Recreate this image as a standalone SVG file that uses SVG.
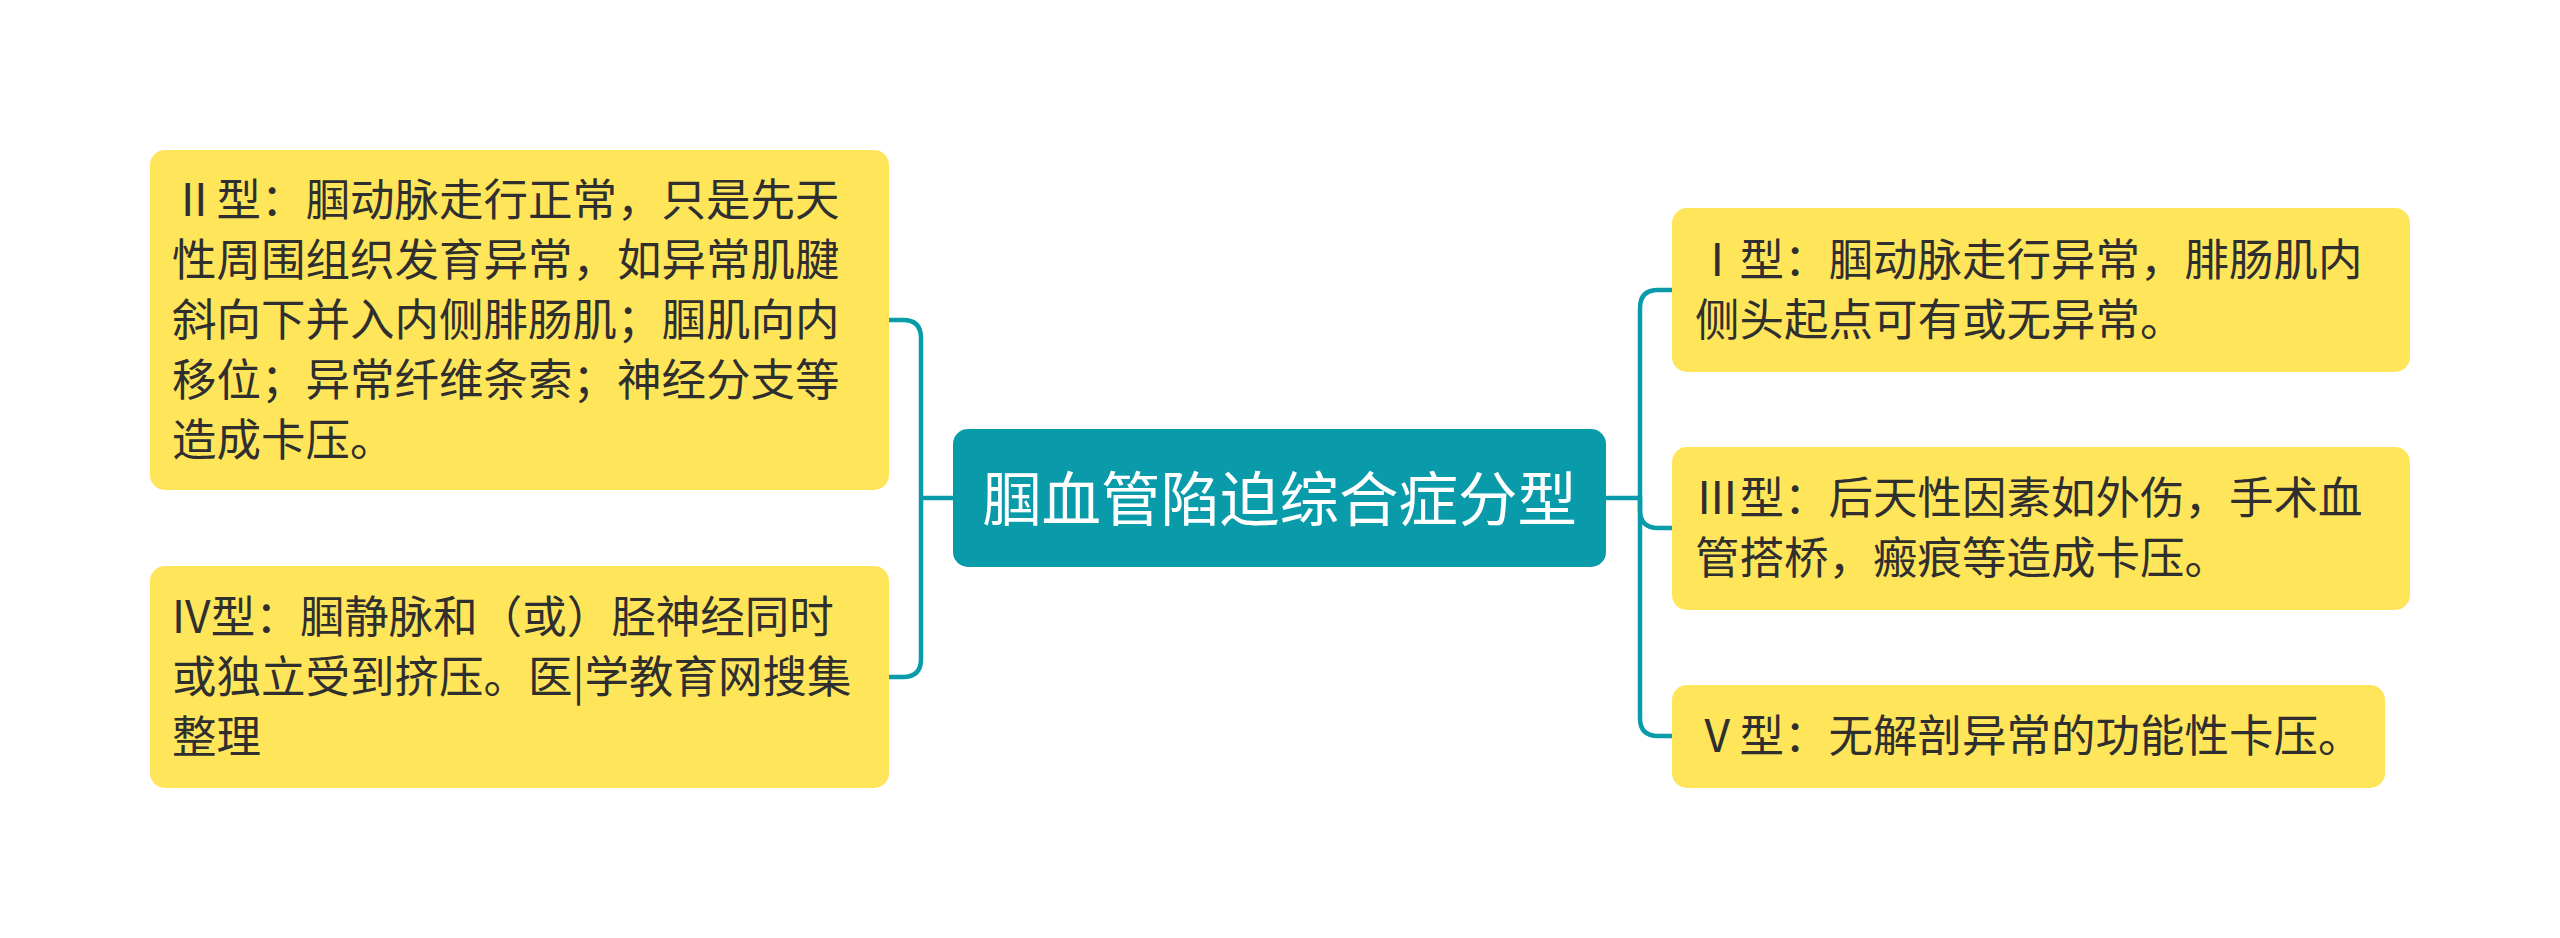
<svg xmlns="http://www.w3.org/2000/svg" width="2560" height="938" viewBox="0 0 2560 938">
<style>
.leaf{fill:#FFE55A;}
.root{fill:#0A9BAA;}
.t{font-family:"Noto Sans CJK SC","Noto Sans",sans-serif;font-size:44.5px;fill:#2F2F2F;}
.rt{font-family:"Noto Sans CJK SC","Noto Sans",sans-serif;font-size:59.5px;fill:#FFFFFF;text-anchor:middle;}
.c{fill:none;stroke:#0A9BAA;stroke-width:4.5;stroke-linecap:round;stroke-linejoin:round;}
</style>
<rect width="2560" height="938" fill="#FFFFFF"/>
<g id="connectors">
<path class="c" d="M953,498 H921 V338 Q921,320 903,320 H887"/>
<path class="c" d="M921,498 V659 Q921,677 903,677 H887"/>
<path class="c" d="M1607,498 H1640 V308 Q1640,290 1658,290 H1672"/>
<path class="c" d="M1640,498 V510 Q1640,528 1658,528 H1672"/>
<path class="c" d="M1640,498 V718 Q1640,736 1658,736 H1672"/>
</g>
<g id="root">
<rect class="root" x="953" y="429" width="653" height="138" rx="15"/>
<text class="rt" x="1279.5" y="521">腘血管陷迫综合症分型</text>
</g>
<g id="type2">
<rect class="leaf" x="150" y="150" width="739" height="340" rx="15"/>
<text class="t"><tspan x="172" y="216">Ⅱ型：腘动脉走行正常，只是先天</tspan><tspan x="172" y="276">性周围组织发育异常，如异常肌腱</tspan><tspan x="172" y="336">斜向下并入内侧腓肠肌；腘肌向内</tspan><tspan x="172" y="396">移位；异常纤维条索；神经分支等</tspan><tspan x="172" y="456">造成卡压。</tspan></text>
</g>
<g id="type4">
<rect class="leaf" x="150" y="566" width="739" height="222" rx="15"/>
<text class="t"><tspan x="172" y="633">IV型：腘静脉和（或）胫神经同时</tspan><tspan x="172" y="693">或独立受到挤压。医|学教育网搜集</tspan><tspan x="172" y="753">整理</tspan></text>
</g>
<g id="type1">
<rect class="leaf" x="1672" y="208" width="738" height="164" rx="15"/>
<text class="t"><tspan x="1695" y="276">Ⅰ型：腘动脉走行异常，腓肠肌内</tspan><tspan x="1695" y="336">侧头起点可有或无异常。</tspan></text>
</g>
<g id="type3">
<rect class="leaf" x="1672" y="447" width="738" height="163" rx="15"/>
<text class="t"><tspan x="1695" y="514">Ⅲ型：后天性因素如外伤，手术血</tspan><tspan x="1695" y="574">管搭桥，瘢痕等造成卡压。</tspan></text>
</g>
<g id="type5">
<rect class="leaf" x="1672" y="685" width="713" height="103" rx="15"/>
<text class="t" x="1695" y="752">Ⅴ型：无解剖异常的功能性卡压。</text>
</g>
</svg>
